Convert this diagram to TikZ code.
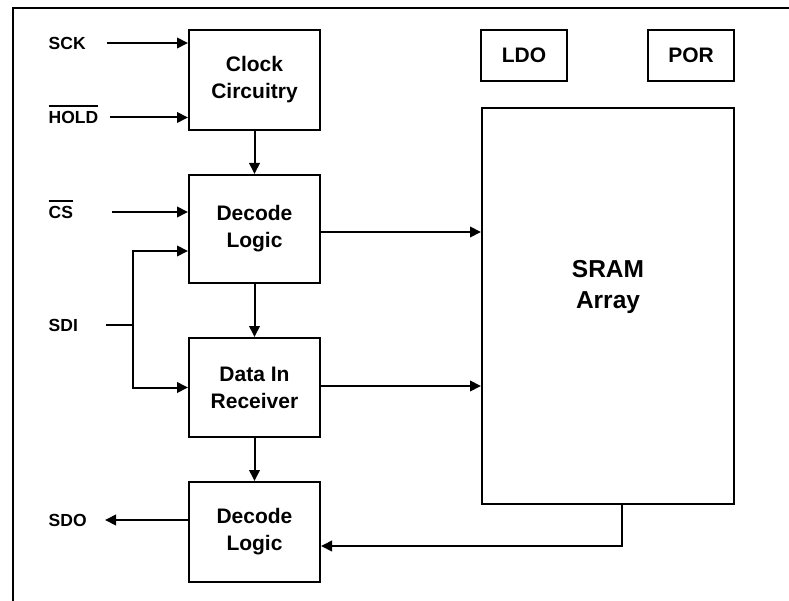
\documentclass[tikz,border=0pt]{standalone}
\usepackage{fontspec}
\setmainfont{Liberation Sans}
\usetikzlibrary{arrows.meta}
\newcommand\myovl[1]{\leavevmode\vbox{\hrule height 1.8pt\kern 4.5pt\hbox{#1}}}
\tikzset{
  blk/.style={draw, line width=2pt, align=center, inner sep=0pt,
    font=\bfseries\fontsize{21}{27}\selectfont},
  sig/.style={anchor=west, inner sep=0pt, text height=12.5pt, text depth=0pt,
    font=\bfseries\fontsize{17.5}{20}\selectfont},
  wire/.style={line width=2pt},
  arr/.style={line width=2pt, -{Triangle[length=11pt,width=10.5pt]}},
}
\begin{document}
\begin{tikzpicture}[x=1pt,y=-1pt]
\useasboundingbox (0,0) rectangle (789,601);
% frame
\draw[line width=2pt] (789,8) -- (13,8) -- (13,601);
% blocks
\node[blk, minimum width=131pt, minimum height=100pt] (clock) at (254.5,80) {Clock\\Circuitry};
\node[blk, minimum width=131pt, minimum height=108pt] (dec1) at (254.5,229) {Decode\\Logic};
\node[blk, minimum width=131pt, minimum height=99pt] (din) at (254.5,387.5) {Data In\\Receiver};
\node[blk, minimum width=131pt, minimum height=100pt] (dec2) at (254.5,532) {Decode\\Logic};
\node[blk, minimum width=86pt, minimum height=51pt] (ldo) at (524,55.5) {LDO};
\node[blk, minimum width=86pt, minimum height=51pt] (por) at (691,55.5) {POR};
\node[blk, minimum width=252pt, minimum height=396pt] (sram) at (608,306) {};
\node[align=center, inner sep=0pt, font=\bfseries\fontsize{24.5}{31}\selectfont] (sramtxt) at (608,287) {SRAM\\Array};
% signal labels
\node[sig] (sck) at (48.5,43) {SCK};
\node[sig] (hold) at (48.5,117.5) {\myovl{HOLD}};
\node[sig] (cs) at (48.5,212) {\myovl{CS}};
\node[sig] (sdi) at (48.5,325) {SDI};
\node[sig] (sdo) at (48.5,520) {SDO};
% coordinates
\coordinate (sckS) at (107,43);
\coordinate (holdS) at (110,117.5);
\coordinate (csS) at (112,212);
\coordinate (sdiS) at (106,325);
\coordinate (br) at (133,325);
\coordinate (brU) at (133,251);
\coordinate (brD) at (133,387.5);
\coordinate (sdoE) at (105,520);
\coordinate (y1) at (0,232);
\coordinate (y2) at (0,386);
\coordinate (fb) at (622,546);
% inputs
\draw[arr] (sckS) -- (clock.west |- sckS);
\draw[arr] (holdS) -- (clock.west |- holdS);
\draw[arr] (csS) -- (dec1.west |- csS);
\draw[wire] (sdiS) -- (br);
\draw[arr] (br) -- (brU) -- (dec1.west |- brU);
\draw[arr] (br) -- (brD) -- (din.west |- brD);
\draw[arr] (dec2.west |- sdoE) -- (sdoE);
% vertical chain
\draw[arr] (clock.south) -- (dec1.north);
\draw[arr] (dec1.south) -- (din.north);
\draw[arr] (din.south) -- (dec2.north);
% to SRAM
\draw[arr] (dec1.east |- y1) -- (sram.west |- y1);
\draw[arr] (din.east |- y2) -- (sram.west |- y2);
% SRAM feedback
\draw[arr] (sram.south -| fb) -- (fb) -- (dec2.east |- fb);
\end{tikzpicture}
\end{document}
